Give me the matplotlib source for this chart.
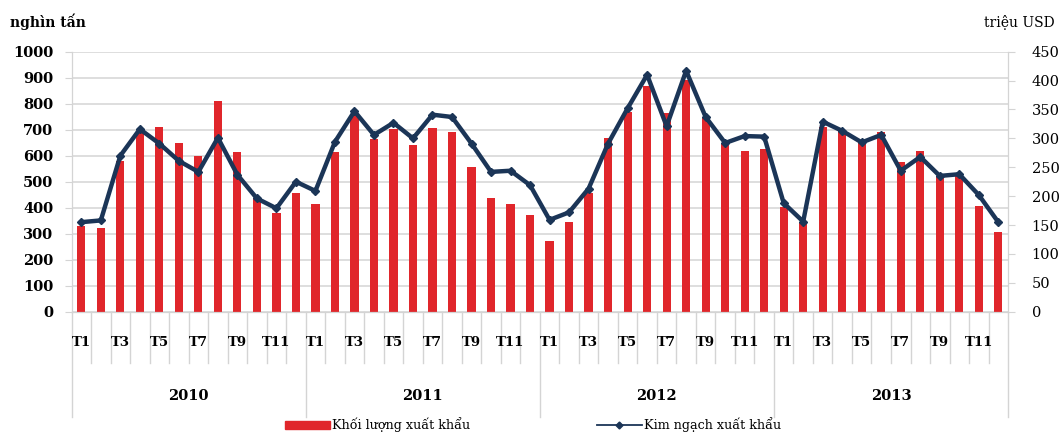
import matplotlib
matplotlib.use("Agg")
import matplotlib.pyplot as plt
from matplotlib.lines import Line2D
from matplotlib.patches import Patch
import matplotlib.transforms as mtransforms
import numpy as np

years = ["2010", "2011", "2012", "2013"]
months = ["T1", "T2", "T3", "T4", "T5", "T6", "T7", "T8", "T9", "T10", "T11", "T12"]

# Khối lượng xuất khẩu (nghìn tấn)
volume = [331, 321, 578, 688, 710, 648, 599, 810, 615, 432, 380, 458,
          415, 613, 756, 663, 704, 642, 708, 692, 558, 436, 415, 372,
          273, 346, 458, 667, 769, 868, 765, 891, 747, 647, 618, 624,
          404, 340, 712, 696, 654, 690, 577, 618, 522, 528, 408, 305]

# Kim ngạch xuất khẩu (triệu USD)
value = [155, 158, 270, 316, 291, 261, 242, 301, 237, 196, 179, 225,
         209, 294, 347, 306, 327, 300, 341, 337, 291, 242, 244, 219,
         159, 172, 213, 291, 352, 410, 321, 417, 337, 292, 304, 303,
         188, 156, 329, 313, 293, 306, 244, 268, 235, 238, 202, 155]

left_ticks = list(range(0, 1001, 100))
right_ticks = list(range(0, 451, 50))

RED = "#E0262B"
NAVY = "#1B3557"
GRID = "#D4D4D4"
SERIF = "DejaVu Serif"

fig = plt.figure(figsize=(10.6, 4.33), dpi=100)
ax = fig.add_axes([0.0675, 0.2801, 0.8835, 0.6005])
ax2 = ax.twinx()

n = len(volume)
x = np.arange(n)
bars = ax.bar(x, volume, width=0.42, color=RED, zorder=2)
ax.set_ylim(0, 1000)
ax.set_xlim(-0.5, n - 0.5)
ax.set_yticks(left_ticks)
ax.set_yticklabels([str(t) for t in left_ticks], fontfamily=SERIF,
                   fontweight="bold", fontsize=10.5)
ax.yaxis.grid(True, color=GRID, lw=1.1, zorder=0)
ax.set_axisbelow(True)
ax.tick_params(axis="y", length=5, color=GRID, pad=8)
ax.set_xticks([])
for s in ["left", "bottom", "right"]:
    ax.spines[s].set_color(GRID)
ax.spines["top"].set_visible(False)

ax2.plot(x, value, color=NAVY, lw=3.2, marker="D", ms=4.5, zorder=3,
         solid_joinstyle="round")
ax2.set_ylim(0, 450)
ax2.set_yticks(right_ticks)
ax2.set_yticklabels([str(t) for t in right_ticks], fontfamily=SERIF,
                    fontsize=10.5)
ax2.tick_params(axis="y", length=5, color=GRID, pad=12)
for s in ["left", "bottom", "right"]:
    ax2.spines[s].set_color(GRID)
ax2.spines["top"].set_visible(False)

# multi-level category axis
trans = mtransforms.blended_transform_factory(ax.transData, ax.transAxes)
for i in range(n + 1):
    xb = i - 0.5
    yend = -0.405 if i % 12 == 0 else -0.198
    ax.plot([xb, xb], [0, yend], color=GRID, lw=1, transform=trans,
            clip_on=False)
for i in range(n):
    if i % 2 == 0:
        ax.text(i, -0.118, months[i % 12], transform=trans, ha="center",
                va="center", fontfamily=SERIF, fontweight="bold", fontsize=9.5)
for k, yr in enumerate(years):
    ax.text(12 * k + 5.5, -0.325, yr, transform=trans, ha="center",
            va="center", fontfamily=SERIF, fontweight="bold", fontsize=10.5)

fig.text(10 / 1060, 1 - 22 / 433, "nghìn tấn", fontfamily=SERIF,
         fontweight="bold", fontsize=10, ha="left", va="center")
fig.text(1055 / 1060, 1 - 22 / 433, "triệu USD", fontfamily=SERIF,
         fontsize=10, ha="right", va="center")

handles = [Patch(color=RED),
           Line2D([0], [0], color=NAVY, lw=1.3, marker="D", ms=3.5)]
fig.legend(handles, ["Khối lượng xuất khẩu", "Kim ngạch xuất khẩu"],
           loc="center left", bbox_to_anchor=(285 / 1060, 1 - 425 / 433),
           ncol=2, frameon=False, prop={"family": SERIF, "size": 9.2},
           handlelength=3.5, handleheight=0.5, handletextpad=0.2,
           columnspacing=9.9, borderpad=0, borderaxespad=0)

fig.savefig("out.png", dpi=100, facecolor="white")
